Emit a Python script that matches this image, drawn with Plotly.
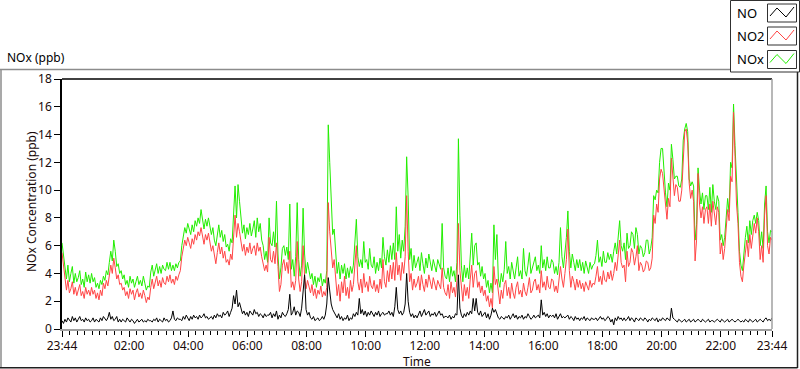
import pandas as pd
import plotly.graph_objects as go

# ---------------- data (3-minute samples, 23:44 -> 23:44 next day) ----------------
start_time = "2024-01-01 23:44"
step_minutes = 3

no2_ppb = [
    5.5, 4.6, 3.4, 2.8, 3.5, 2.6, 2.9, 3.4, 2.5, 3.0, 2.4, 2.8, 3.2, 2.4, 2.7, 2.2, 3.0, 2.5, 2.8, 2.4,
    3.0, 2.5, 2.8, 2.2, 2.6, 2.1, 2.8, 2.4, 3.3, 2.9, 3.5, 3.1, 3.9, 4.6, 4.0, 5.1, 4.4, 3.6, 3.9, 3.2,
    3.3, 2.8, 3.0, 2.4, 2.7, 2.2, 2.9, 2.5, 2.8, 2.1, 2.6, 2.9, 2.3, 2.6, 2.2, 2.8, 2.4, 1.9, 2.3, 2.1,
    3.0, 3.6, 2.9, 3.3, 3.8, 3.1, 3.5, 3.0, 3.7, 3.3, 3.2, 3.8, 3.4, 3.9, 3.3, 3.6, 3.2, 3.8, 3.5, 3.9,
    4.2, 5.2, 5.9, 6.4, 6.0, 6.6, 6.2, 5.8, 6.5, 6.1, 6.8, 6.4, 7.0, 6.7, 7.3, 6.6, 6.1, 6.8, 6.4, 6.9,
    6.2, 5.6, 6.0, 5.2, 4.7, 5.5, 6.2, 5.4, 5.9, 5.1, 5.6, 4.8, 5.0, 4.6, 5.4, 5.0, 6.8, 8.2, 6.6, 7.6,
    7.0, 6.2, 5.6, 6.1, 5.3, 5.9, 5.5, 6.2, 5.4, 5.8, 6.0, 5.3, 6.2, 5.6, 5.9, 5.2, 4.8, 4.2, 4.6, 4.1,
    6.6, 5.0, 4.8, 5.6, 4.7, 6.2, 4.5, 2.7, 3.2, 4.6, 5.0, 4.2, 4.8, 4.0, 5.6, 3.0, 3.4, 2.8, 3.5, 6.3,
    3.6, 2.7, 3.4, 6.0, 3.8, 2.9, 3.5, 3.0, 2.6, 3.2, 2.4, 2.9, 2.2, 2.8, 2.5, 3.1, 2.3, 2.7, 2.4, 3.0,
    9.1, 7.0, 5.6, 4.4, 5.0, 3.6, 2.4, 3.2, 2.0, 3.4, 2.6, 3.8, 2.4, 3.0, 2.2, 3.5, 2.7, 3.2, 4.4, 6.0,
    3.4, 2.8, 3.6, 2.6, 4.0, 3.0, 3.4, 2.7, 3.8, 3.1, 2.9, 3.5, 2.7, 3.2, 2.6, 3.6, 2.9, 5.0, 3.4, 3.0,
    4.2, 3.4, 4.6, 3.6, 4.8, 3.5, 5.5, 3.9, 4.6, 3.5, 4.8, 4.0, 5.2, 9.6, 5.6, 3.4, 4.0, 2.8, 3.6, 3.0,
    3.3, 3.8, 2.8, 3.9, 3.2, 2.7, 3.6, 3.0, 3.9, 3.3, 2.9, 3.7, 3.1, 2.8, 3.5, 3.2, 2.9, 4.4, 3.0, 2.6,
    2.4, 3.2, 2.2, 3.4, 2.6, 3.0, 2.3, 3.5, 7.6, 4.2, 2.8, 2.0, 3.2, 2.4, 3.0, 2.2, 3.6, 4.6, 3.0, 4.0,
    4.2, 3.0, 3.4, 2.6, 3.1, 2.4, 2.8, 2.0, 2.4, 1.6, 2.2, 1.5, 4.5, 3.2, 3.6, 2.4, 1.8, 2.8, 2.2, 3.2,
    3.5, 2.4, 3.0, 2.2, 3.3, 2.6, 2.2, 3.0, 3.4, 2.5, 2.8, 2.3, 3.3, 2.7, 2.4, 3.0, 3.7, 2.6, 2.8, 3.4,
    3.6, 2.8, 3.2, 2.6, 4.2, 3.0, 3.4, 2.8, 3.8, 3.0, 2.9, 3.6, 3.5, 2.7, 3.1, 2.6, 3.4, 4.5, 3.6, 3.0,
    4.0, 5.0, 7.2, 4.2, 3.0, 3.8, 3.4, 2.8, 3.6, 3.0, 3.5, 2.9, 3.3, 2.7, 3.4, 3.0, 2.8, 3.5, 3.0, 3.3,
    3.2, 3.8, 4.5, 3.4, 3.8, 3.2, 4.2, 3.5, 3.4, 4.1, 3.6, 4.2, 3.5, 4.0, 4.8, 4.2, 5.6, 6.4, 4.8, 4.4,
    4.6, 3.4, 5.6, 4.5, 4.8, 5.8, 5.5, 4.6, 5.2, 6.0, 4.2, 4.8, 4.6, 4.1, 4.3, 4.9, 4.8, 4.2, 4.4, 5.1,
    8.2, 7.6, 9.0, 8.4, 10.8, 11.5, 11.2, 10.0, 8.6, 7.9, 9.4, 8.8, 12.3, 11.0, 9.6, 10.4, 10.2, 9.2, 9.2, 10.0,
    12.8, 14.2, 14.4, 13.4, 10.5, 9.4, 10.0, 9.2, 4.9, 6.4, 11.2, 9.0, 8.0, 8.8, 7.6, 8.6, 8.8, 7.6, 9.0, 7.4,
    9.2, 8.2, 7.5, 8.8, 8.4, 5.4, 6.2, 5.0, 5.8, 7.2, 8.6, 7.8, 11.0, 10.6, 15.6, 12.4, 9.0, 7.6, 4.8, 3.8,
    3.4, 4.6, 5.6, 6.4, 5.2, 6.8, 5.8, 7.0, 7.6, 6.9, 8.0, 7.0, 5.0, 6.0, 4.8, 8.2, 9.6, 6.0, 5.4, 6.6, 6.4,
]

nox_ppb = [
    6.2, 5.4, 4.3, 3.6, 4.6, 3.4, 4.0, 4.5, 3.3, 4.0, 3.4, 3.7, 4.2, 3.2, 3.6, 3.0, 4.1, 3.4, 3.9, 3.3,
    4.0, 3.4, 3.7, 3.0, 3.3, 2.9, 3.5, 3.2, 3.8, 3.5, 4.2, 3.9, 4.8, 5.6, 4.9, 6.4, 5.6, 4.5, 4.7, 4.0,
    4.2, 3.6, 3.9, 3.2, 3.5, 3.0, 3.8, 3.3, 3.6, 3.0, 3.4, 3.8, 3.2, 3.5, 3.1, 3.8, 3.3, 2.8, 3.1, 3.0,
    4.1, 4.6, 3.8, 4.3, 4.7, 4.0, 4.5, 4.0, 4.6, 4.3, 4.2, 4.8, 4.3, 4.8, 4.2, 4.6, 4.2, 4.7, 4.4, 4.8,
    4.9, 6.0, 6.8, 7.3, 6.9, 7.6, 7.2, 6.8, 7.5, 7.0, 7.8, 7.4, 8.0, 7.6, 8.6, 7.8, 7.2, 7.9, 7.4, 8.0,
    7.4, 6.8, 7.3, 6.4, 6.0, 6.8, 7.5, 6.6, 7.1, 6.3, 6.8, 5.9, 6.1, 5.6, 6.5, 6.2, 8.6, 10.3, 8.0, 10.4,
    9.2, 7.8, 6.9, 7.5, 6.5, 7.3, 6.8, 7.6, 6.7, 7.2, 7.8, 6.6, 8.0, 7.0, 7.6, 6.4, 6.0, 5.0, 5.6, 4.8,
    8.0, 6.2, 6.0, 7.0, 5.9, 9.2, 5.4, 3.6, 4.4, 5.8, 6.0, 5.3, 5.9, 5.0, 9.0, 4.3, 5.0, 3.8, 5.2, 9.1,
    5.0, 3.8, 4.6, 8.7, 5.4, 4.0, 4.8, 4.2, 3.6, 4.0, 3.2, 3.8, 3.0, 3.7, 3.4, 4.0, 3.1, 3.6, 3.3, 4.2,
    14.7, 12.0, 9.5, 6.8, 7.2, 5.2, 4.0, 4.8, 3.6, 4.6, 4.0, 4.7, 3.6, 4.4, 3.7, 4.5, 4.0, 4.6, 6.0, 7.9,
    5.2, 4.5, 5.0, 4.4, 6.3, 4.8, 5.0, 4.3, 5.8, 4.6, 4.4, 5.2, 4.0, 4.8, 4.2, 5.1, 4.4, 6.6, 5.2, 4.6,
    5.7, 4.8, 6.0, 5.0, 6.2, 5.0, 8.8, 5.6, 6.8, 5.1, 6.4, 5.6, 7.4, 12.4, 9.5, 5.0, 5.8, 4.2, 5.3, 4.4,
    4.8, 5.2, 4.2, 5.5, 4.7, 4.0, 5.1, 4.4, 5.4, 4.6, 4.2, 5.0, 4.5, 4.1, 5.0, 4.6, 4.3, 7.6, 4.4, 3.8,
    3.6, 4.4, 3.4, 4.5, 3.8, 4.2, 3.4, 4.8, 13.7, 8.2, 4.6, 3.4, 4.6, 3.7, 4.4, 3.6, 5.4, 6.9, 4.6, 6.0,
    6.2, 4.6, 4.8, 3.8, 4.5, 3.6, 4.0, 3.0, 3.5, 2.6, 3.3, 2.6, 7.5, 5.0, 6.8, 3.6, 3.0, 4.0, 3.4, 4.3,
    6.3, 4.0, 4.5, 3.6, 4.8, 4.0, 3.6, 4.4, 5.2, 3.8, 4.2, 3.6, 5.8, 4.2, 3.8, 4.6, 5.5, 4.0, 4.4, 5.0,
    5.2, 4.2, 4.6, 4.0, 6.0, 4.4, 5.0, 4.2, 5.2, 4.4, 4.4, 5.0, 4.8, 4.0, 4.5, 3.9, 4.8, 7.3, 5.2, 4.4,
    5.4, 6.6, 8.5, 5.6, 4.4, 5.4, 4.8, 4.2, 5.0, 4.4, 5.0, 4.2, 4.8, 4.0, 4.9, 4.3, 4.0, 4.8, 4.3, 4.6,
    4.7, 5.3, 6.4, 4.8, 5.2, 4.5, 5.6, 4.8, 4.8, 5.5, 5.0, 5.4, 4.8, 5.6, 6.2, 5.4, 7.0, 7.8, 6.0, 5.6,
    6.2, 5.0, 6.9, 5.8, 6.0, 7.0, 6.8, 5.8, 7.3, 6.8, 5.4, 6.0, 5.8, 5.2, 5.5, 6.4, 6.4, 5.4, 5.8, 6.6,
    9.6, 9.3, 10.0, 9.8, 12.0, 13.0, 13.0, 11.2, 9.8, 8.8, 10.5, 10.0, 13.3, 12.2, 10.8, 11.0, 11.0, 10.3, 10.2, 10.8,
    13.6, 14.4, 14.8, 14.2, 10.8, 10.3, 10.6, 10.3, 6.4, 7.5, 11.6, 10.0, 9.0, 9.8, 8.6, 9.6, 9.6, 8.6, 10.2, 8.4,
    10.4, 9.2, 8.6, 9.6, 9.2, 6.4, 6.8, 6.0, 6.6, 8.0, 9.4, 8.4, 12.0, 11.6, 16.2, 13.2, 10.0, 8.4, 5.6, 4.6,
    4.2, 5.6, 6.6, 7.4, 6.2, 7.8, 6.8, 7.8, 8.2, 7.6, 8.4, 7.8, 6.0, 7.0, 5.8, 9.0, 10.3, 7.0, 6.2, 7.1, 7.0,
]

no_ppb = [
    0.6, 0.4, 0.7, 0.5, 0.8, 0.6, 0.5, 0.9, 0.6, 0.8, 0.5, 0.7, 0.9, 0.6, 0.7, 0.5, 0.8, 0.6, 0.7, 0.5,
    0.6, 0.8, 0.5, 0.7, 0.6, 0.5, 0.8, 0.6, 0.9, 0.7, 0.6, 0.8, 1.2, 0.7, 0.9, 0.6, 0.7, 0.9, 0.5, 0.7,
    0.5, 0.7, 0.6, 0.5, 0.8, 0.6, 0.5, 0.7, 0.6, 0.4, 0.6, 0.7, 0.5, 0.6, 0.7, 0.5, 0.6, 0.5, 0.7, 0.6,
    0.6, 0.5, 0.7, 0.6, 0.8, 0.5, 0.7, 0.6, 0.5, 0.8, 0.6, 0.7, 0.5, 0.6, 0.8, 1.3, 0.7, 0.6, 0.8, 0.7,
    0.7, 0.6, 0.9, 0.7, 1.0, 0.8, 0.6, 0.9, 0.7, 1.0, 0.8, 0.9, 0.7, 1.0, 0.8, 0.9, 1.1, 0.8, 0.9, 0.7,
    0.8, 0.9, 0.7, 1.0, 0.8, 1.1, 0.9, 1.0, 0.8, 1.2, 1.0, 1.1, 1.3, 0.9, 1.2, 1.5, 2.4, 1.8, 2.8, 1.6,
    1.9, 1.4, 1.1, 1.3, 1.0, 1.2, 0.9, 1.3, 1.1, 1.0, 1.4, 1.1, 1.2, 0.9, 1.1, 1.0, 0.8, 1.1, 0.9, 1.0,
    1.0, 1.2, 0.8, 1.1, 0.9, 1.3, 0.7, 1.0, 0.8, 1.2, 1.0, 0.9, 1.1, 1.4, 2.5, 1.0, 1.2, 1.6, 1.0, 1.3,
    1.2, 0.9, 1.5, 2.6, 3.9, 1.4, 1.0, 1.2, 0.8, 0.7, 0.9, 0.6, 0.7, 0.8, 0.6, 0.7, 0.9, 0.7, 1.0, 1.8,
    3.7, 2.6, 1.8, 1.4, 1.2, 1.0, 0.8, 1.1, 0.7, 0.9, 0.6, 0.8, 0.7, 1.0, 0.6, 0.8, 0.7, 1.1, 0.9, 1.2,
    1.0, 2.2, 1.1, 1.4, 1.0, 1.3, 0.9, 1.2, 1.0, 1.3, 1.1, 0.9, 1.2, 1.0, 1.3, 0.9, 1.1, 1.2, 1.0, 1.1,
    1.1, 1.3, 1.0, 1.2, 0.9, 1.6, 3.0, 1.4, 1.1, 1.3, 1.0, 1.2, 1.8, 4.0, 2.0, 1.2, 0.9, 1.1, 0.8, 1.0,
    0.8, 1.0, 1.3, 0.9, 1.1, 1.4, 1.0, 1.2, 1.3, 0.9, 1.1, 1.0, 1.2, 0.9, 1.1, 1.3, 1.0, 1.1, 0.8, 0.9,
    0.9, 0.8, 1.0, 0.7, 0.9, 0.8, 1.1, 1.0, 3.9, 1.5, 1.0, 0.8, 1.1, 0.9, 1.2, 1.0, 1.3, 1.1, 2.2, 1.3,
    2.2, 1.2, 1.0, 1.3, 0.9, 1.1, 1.2, 0.8, 1.1, 0.7, 1.0, 1.5, 1.2, 1.4, 1.0, 0.8, 0.7, 0.9, 0.8, 0.7,
    0.9, 0.8, 1.0, 0.7, 0.9, 1.1, 0.8, 1.0, 0.7, 0.9, 0.8, 1.0, 0.7, 0.9, 0.8, 1.1, 0.9, 0.7, 0.8, 1.0,
    0.8, 0.9, 1.0, 0.8, 2.1, 1.0, 1.2, 0.9, 1.1, 0.8, 1.0, 0.9, 1.0, 0.8, 1.1, 0.7, 0.9, 1.1, 0.8, 0.9,
    0.8, 0.9, 1.0, 0.7, 0.9, 0.8, 0.6, 0.9, 0.7, 0.8, 0.6, 0.8, 0.7, 0.9, 0.6, 0.8, 0.7, 0.6, 0.8, 0.7,
    0.7, 0.8, 0.6, 0.8, 0.9, 0.7, 0.8, 0.6, 0.7, 0.9, 0.8, 0.5, 0.7, 0.3, 0.8, 0.6, 0.9, 0.7, 0.8, 0.6,
    0.8, 0.6, 0.7, 0.9, 0.6, 0.8, 0.7, 0.5, 0.8, 0.7, 0.6, 0.8, 0.7, 0.6, 0.8, 0.7, 0.5, 0.7, 0.6, 0.8,
    0.7, 0.6, 0.8, 0.5, 0.7, 0.6, 0.8, 0.7, 0.6, 0.8, 0.7, 0.6, 1.5, 0.8, 0.7, 0.6, 0.5, 0.7, 0.6, 0.5,
    0.6, 0.7, 0.5, 0.6, 0.7, 0.5, 0.6, 0.7, 0.5, 0.6, 0.7, 0.6, 0.5, 0.7, 0.6, 0.5, 0.6, 0.7, 0.5, 0.6,
    0.6, 0.5, 0.6, 0.7, 0.6, 0.5, 0.7, 0.6, 0.5, 0.6, 0.7, 0.5, 0.6, 0.7, 0.6, 0.5, 0.6, 0.7, 0.6, 0.5,
    0.6, 0.5, 0.7, 0.6, 0.5, 0.7, 0.6, 0.5, 0.6, 0.7, 0.5, 0.6, 0.7, 0.6, 0.5, 0.7, 0.8, 0.6, 0.7, 0.6, 0.8,
]

y_tick_values = [0, 2, 4, 6, 8, 10, 12, 14, 16, 18]
x_tick_labels = ["23:44", "02:00", "04:00", "06:00", "08:00", "10:00",
                 "12:00", "14:00", "16:00", "18:00", "20:00", "22:00", "23:44"]
x_tick_times = ["2024-01-01 23:44", "2024-01-02 02:00", "2024-01-02 04:00",
                "2024-01-02 06:00", "2024-01-02 08:00", "2024-01-02 10:00",
                "2024-01-02 12:00", "2024-01-02 14:00", "2024-01-02 16:00",
                "2024-01-02 18:00", "2024-01-02 20:00", "2024-01-02 22:00",
                "2024-01-02 23:44"]
series_names = ["NO", "NO2", "NOx"]
series_colors = {"NO": "#000000", "NO2": "#ff4545", "NOx": "#22ee00"}

# ---------------- figure ----------------
times = pd.date_range(start_time, periods=len(no2_ppb), freq=f"{step_minutes}min")

W, H = 800, 369
ML, MR, MT, MB = 62, 28, 79, 40
PW, PH = W - ML - MR, H - MT - MB

def px(x):
    return (x - ML) / PW

def py(y):
    return (H - MB - y) / PH

FONT = "Noto Sans"
TXT = "#1a0a0a"

fig = go.Figure()
fig.add_trace(go.Scatter(x=times, y=nox_ppb, mode="lines", name="NOx",
                         line=dict(color=series_colors["NOx"], width=1)))
fig.add_trace(go.Scatter(x=times, y=no2_ppb, mode="lines", name="NO2",
                         line=dict(color=series_colors["NO2"], width=1)))
fig.add_trace(go.Scatter(x=times, y=no_ppb, mode="lines", name="NO",
                         line=dict(color=series_colors["NO"], width=1)))

shapes = []
# plot-area border: top/left black, right/bottom gray
shapes.append(dict(type="line", xref="paper", yref="paper", x0=0, x1=1, y0=1, y1=1,
                   line=dict(color="#000000", width=1.5)))
shapes.append(dict(type="line", xref="paper", yref="paper", x0=1, x1=1, y0=0, y1=1,
                   line=dict(color="#a0a0a0", width=1.5)))
# outer frame
shapes.append(dict(type="line", xref="paper", yref="paper", x0=px(0), x1=px(730),
                   y0=py(69.5), y1=py(69.5), line=dict(color="#8c8c8c", width=1.5)))
shapes.append(dict(type="line", xref="paper", yref="paper", x0=px(1), x1=px(1),
                   y0=py(69.5), y1=py(368), line=dict(color="#8c8c8c", width=1.5)))
shapes.append(dict(type="line", xref="paper", yref="paper", x0=px(0), x1=px(797.5),
                   y0=py(367.8), y1=py(367.8), line=dict(color="#202020", width=1.5)))
shapes.append(dict(type="line", xref="paper", yref="paper", x0=px(797.5), x1=px(797.5),
                   y0=py(72), y1=py(368), line=dict(color="#202020", width=1.5)))
# legend box
shapes.append(dict(type="rect", xref="paper", yref="paper", x0=px(730.5), x1=px(799.5),
                   y0=py(72), y1=py(0.5), line=dict(color="#303030", width=1),
                   fillcolor="#ffffff"))

annotations = []
legend_rows = [("NO", 13), ("NO2", 36), ("NOx", 59.5)]
for name, yc in legend_rows:
    annotations.append(dict(text=name, xref="paper", yref="paper", x=px(735), y=py(yc),
                            xanchor="left", yanchor="middle", showarrow=False,
                            font=dict(family=FONT, size=13, color="#000000")))
    shapes.append(dict(type="rect", xref="paper", yref="paper",
                       x0=px(767.5), x1=px(796.5), y0=py(yc + 9), y1=py(yc - 9),
                       line=dict(color="#303030", width=1), fillcolor="#ffffff"))
    zx = [770, 777, 786, 794]
    zy = [yc + 3, yc - 5, yc + 4, yc - 6]
    path = "M " + " L ".join(f"{px(a):.5f},{py(b):.5f}" for a, b in zip(zx, zy))
    shapes.append(dict(type="path", xref="paper", yref="paper", path=path,
                       line=dict(color=series_colors[name], width=1)))

annotations.append(dict(text="NOx (ppb)", xref="paper", yref="paper", x=px(5), y=py(58),
                        xanchor="left", yanchor="middle", showarrow=False,
                        font=dict(family=FONT, size=12, color="#000000")))
annotations.append(dict(text="NOx Concentration (ppb)", xref="paper", yref="paper",
                        x=px(31), y=py(202), textangle=-90,
                        xanchor="center", yanchor="middle", showarrow=False,
                        font=dict(family=FONT, size=12, color=TXT)))
annotations.append(dict(text="Time", xref="paper", yref="paper",
                        x=px(417), y=py(361),
                        xanchor="center", yanchor="middle", showarrow=False,
                        font=dict(family=FONT, size=12, color=TXT)))

fig.update_layout(
    width=W, height=H,
    margin=dict(l=ML, r=MR, t=MT, b=MB, pad=0),
    paper_bgcolor="#ffffff", plot_bgcolor="#ffffff",
    showlegend=False,
    font=dict(family=FONT, size=12, color=TXT),
    shapes=shapes, annotations=annotations,
    xaxis=dict(
        automargin=False,
        range=[x_tick_times[0], x_tick_times[-1]],
        tickvals=x_tick_times, ticktext=x_tick_labels,
        ticks="outside", ticklen=6, tickcolor="#000000", tickwidth=1,
        ticklabelstandoff=-1,
        minor=dict(dtick=15 * 60 * 1000, tick0="2024-01-02 00:00", ticks="outside",
                   ticklen=4, tickcolor="#000000", tickwidth=1),
        showgrid=False, zeroline=False,
        showline=True, linecolor="#a0a0a0", linewidth=1.5,
        tickfont=dict(family=FONT, size=12, color=TXT),
    ),
    yaxis=dict(
        automargin=False,
        range=[0, 18], tickvals=y_tick_values,
        ticks="outside", ticklen=6, tickcolor="#000000", tickwidth=1,
        showgrid=False, zeroline=False,
        showline=True, linecolor="#000000", linewidth=1.5,
        tickfont=dict(family=FONT, size=12, color=TXT),
    ),
)

fig.write_html("out.html", config={"displayModeBar": False},
               post_script="document.body.style.margin='0';")
